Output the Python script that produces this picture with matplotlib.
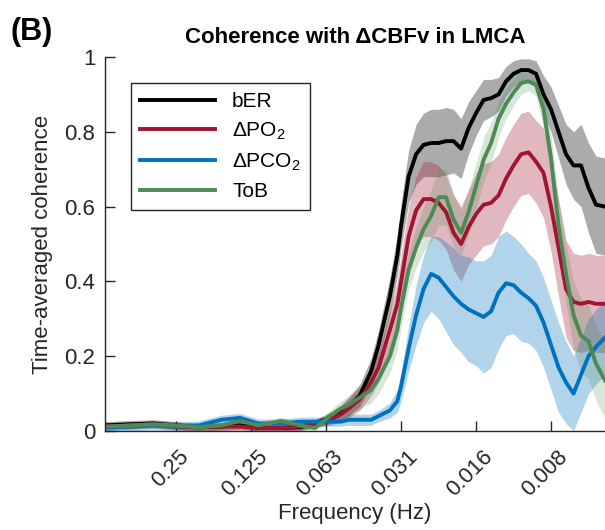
import numpy as np
import matplotlib
matplotlib.use("Agg")
import matplotlib.pyplot as plt
import matplotlib.transforms as mtransforms

plt.rcParams['font.family'] = ['Liberation Sans', 'DejaVu Sans']
plt.rcParams['mathtext.fontset'] = 'custom'
plt.rcParams['mathtext.rm'] = 'Liberation Sans'
plt.rcParams['mathtext.it'] = 'Liberation Sans:italic'

# x positions as log2(period) -> frequency = 2**-octave
octave = [1.05, 1.4, 1.7, 2.0, 2.3, 2.6, 2.85, 3.1, 3.4, 3.65, 3.85, 4.05, 4.2, 4.3, 4.45, 4.6, 4.7, 4.85, 4.95,
          5.0, 5.1, 5.2, 5.3, 5.4, 5.5, 5.6, 5.7, 5.8, 5.9, 6.0, 6.1, 6.2, 6.3, 6.4, 6.5, 6.6, 6.7, 6.8, 6.9,
          7.0, 7.1, 7.2, 7.3, 7.4, 7.5, 7.6, 7.72]

ber = [0.015, 0.018, 0.02, 0.015, 0.01, 0.012, 0.015, 0.008, 0.008, 0.01, 0.02, 0.035, 0.05, 0.065, 0.095, 0.16, 0.23, 0.36, 0.47,
       0.55, 0.68, 0.74, 0.765, 0.77, 0.77, 0.775, 0.775, 0.755, 0.81, 0.85, 0.885, 0.89, 0.90, 0.935, 0.955, 0.965, 0.965, 0.955, 0.90,
       0.86, 0.80, 0.74, 0.71, 0.71, 0.65, 0.605, 0.60]
ber_err = [0.01] * 11 + [0.015, 0.02, 0.025, 0.03, 0.035, 0.04, 0.05, 0.055,
           0.06, 0.07, 0.08, 0.085, 0.09, 0.09, 0.09, 0.085, 0.08, 0.07, 0.06, 0.055, 0.05, 0.045, 0.04, 0.035, 0.03, 0.03, 0.035, 0.05,
           0.06, 0.07, 0.08, 0.09, 0.11, 0.12, 0.13, 0.13]

po2 = [0.012, 0.015, 0.018, 0.012, 0.01, 0.012, 0.012, 0.008, 0.008, 0.012, 0.02, 0.03, 0.045, 0.06, 0.085, 0.13, 0.17, 0.27, 0.34,
       0.40, 0.52, 0.59, 0.62, 0.62, 0.61, 0.585, 0.53, 0.50, 0.545, 0.58, 0.605, 0.61, 0.63, 0.675, 0.71, 0.74, 0.745, 0.72, 0.69,
       0.60, 0.49, 0.38, 0.345, 0.34, 0.345, 0.34, 0.34]
po2_err = [0.01] * 11 + [0.015, 0.02, 0.025, 0.03, 0.035, 0.04, 0.05, 0.06,
           0.07, 0.08, 0.09, 0.1, 0.1, 0.1, 0.1, 0.1, 0.1, 0.1, 0.11, 0.11, 0.11, 0.11, 0.11, 0.11, 0.11, 0.11, 0.11, 0.12,
           0.12, 0.13, 0.13, 0.13, 0.13, 0.13, 0.13, 0.13]

pco2 = [0.01, 0.012, 0.015, 0.012, 0.015, 0.03, 0.035, 0.02, 0.02, 0.025, 0.025, 0.025, 0.025, 0.03, 0.03, 0.03, 0.04, 0.055, 0.08,
        0.12, 0.22, 0.31, 0.38, 0.42, 0.41, 0.385, 0.36, 0.34, 0.325, 0.315, 0.305, 0.32, 0.37, 0.395, 0.39, 0.37, 0.355, 0.335, 0.29,
        0.23, 0.17, 0.13, 0.10, 0.15, 0.20, 0.225, 0.25]
pco2_err = [0.012] * 11 + [0.012, 0.012, 0.015, 0.015, 0.015, 0.015, 0.02, 0.03,
            0.04, 0.06, 0.08, 0.09, 0.1, 0.11, 0.12, 0.13, 0.13, 0.14, 0.14, 0.15, 0.15, 0.15, 0.14, 0.13, 0.13, 0.12, 0.12, 0.12,
            0.12, 0.12, 0.11, 0.1, 0.1, 0.1, 0.1, 0.1]

tob = [0.012, 0.015, 0.018, 0.015, 0.01, 0.015, 0.027, 0.015, 0.027, 0.015, 0.008, 0.04, 0.06, 0.07, 0.09, 0.11, 0.14, 0.20, 0.27,
       0.33, 0.43, 0.49, 0.54, 0.575, 0.625, 0.625, 0.565, 0.53, 0.585, 0.655, 0.725, 0.77, 0.835, 0.875, 0.905, 0.93, 0.935, 0.925, 0.86,
       0.73, 0.55, 0.42, 0.31, 0.255, 0.24, 0.18, 0.135]
tob_err = [0.01] * 11 + [0.015, 0.02, 0.025, 0.03, 0.035, 0.04, 0.045, 0.05,
           0.05, 0.05, 0.055, 0.06, 0.07, 0.075, 0.075, 0.07, 0.06, 0.06, 0.06, 0.06, 0.055, 0.05, 0.04, 0.035, 0.03, 0.025, 0.03, 0.05,
           0.06, 0.07, 0.08, 0.09, 0.1, 0.1, 0.1, 0.1]

labels = ['bER', r'$\Delta$PO$_2$', r'$\Delta$PCO$_2$', 'ToB']
colors = ['#000000', '#A2142F', '#0072BD', '#4E8A55']
band_alpha = [0.33, 0.3, 0.3, 0.22]

tick_freqs = [0.25, 0.125, 0.0625, 0.03125, 0.015625, 0.0078125]
tick_labels = ['0.25', '0.125', '0.063', '0.031', '0.016', '0.008']

freq = 2.0 ** -np.array(octave)

fig = plt.figure(figsize=(6.05, 5.3), dpi=100)
ax = fig.add_axes([0.1736, 0.1868, 0.8264, 0.7057])

series = [(ber, ber_err), (po2, po2_err), (pco2, pco2_err), (tob, tob_err)]
for (m, e), c, a, lab in zip(series, colors, band_alpha, labels):
    m = np.array(m)
    e = np.array(e)
    ax.fill_between(freq, np.clip(m - e, 0, None), m + e, color=c, alpha=a, lw=0)
    ax.plot(freq, m, color=c, lw=2.8, label=lab)

ax.set_xscale('log')
ax.set_xlim(2.0 ** -1.05, 2.0 ** -7.72)
ax.set_ylim(0, 1)
ax.set_xticks(tick_freqs)
ax.set_xticklabels(tick_labels)
ax.minorticks_off()
ax.set_yticks([0, 0.2, 0.4, 0.6, 0.8, 1])
ax.set_yticklabels(['0', '0.2', '0.4', '0.6', '0.8', '1'])

for s in ['top', 'right']:
    ax.spines[s].set_visible(False)
for s in ['left', 'bottom']:
    ax.spines[s].set_color('#262626')
    ax.spines[s].set_linewidth(1.0)

ax.tick_params(axis='both', direction='in', length=7, width=1, colors='#262626', labelsize=16)
ax.tick_params(axis='x', pad=11)
ax.tick_params(axis='y', pad=7)
offset = mtransforms.ScaledTranslation(-6 / 100, 0, fig.dpi_scale_trans)
for lbl in ax.get_xticklabels():
    lbl.set_rotation(45)
    lbl.set_transform(lbl.get_transform() + offset)

ax.set_xlabel('Frequency (Hz)', fontsize=16, color='#262626', labelpad=2)
ax.set_ylabel('Time-averaged coherence', fontsize=16, color='#262626', labelpad=8)
ax.set_title('Coherence with \u0394CBFv in LMCA', fontsize=16, fontweight='bold', pad=10)
fig.text(0.018, 0.925, '(B)', fontsize=22, fontweight='bold')

leg = ax.legend(loc='upper left', bbox_to_anchor=(0.2165, 0.8434), bbox_transform=fig.transFigure,
                fontsize=15, handlelength=3.6, labelspacing=0.45, borderpad=0.45, borderaxespad=0,
                fancybox=False, framealpha=1, edgecolor='#262626')
leg.get_frame().set_linewidth(1.0)

fig.savefig('out.png', dpi=100)
